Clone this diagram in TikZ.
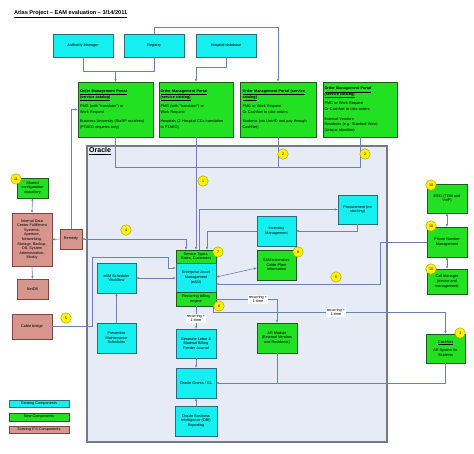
\documentclass[tikz,border=0pt]{standalone}
\usepackage{fontspec}
\setmainfont{Liberation Sans}
\usetikzlibrary{arrows.meta,calc}
\definecolor{cyanC}{RGB}{20,240,240}
\definecolor{cyanD}{RGB}{40,110,120}
\definecolor{greenC}{RGB}{34,224,34}
\definecolor{greenD}{RGB}{30,90,30}
\definecolor{pinkC}{RGB}{214,150,142}
\definecolor{pinkD}{RGB}{130,70,66}
\definecolor{oraC}{RGB}{230,235,246}
\definecolor{oraD}{RGB}{118,122,134}
\definecolor{lineC}{RGB}{110,130,175}
\definecolor{numD}{RGB}{170,150,0}
\newcommand\bxf{\fontsize{3.8}{4.6}\selectfont}
\newcommand\omf{\fontsize{3.8}{5.6}\selectfont}
\newcommand\nmf{\fontsize{3.6}{4}\selectfont}
\tikzset{
  base/.style={draw, line width=0.6pt, align=center, inner sep=1pt, font=\bxf},
  cy/.style={base, fill=cyanC, draw=cyanD},
  gr/.style={base, fill=greenC, draw=greenD},
  pk/.style={base, fill=pinkC, draw=pinkD},
  bx/.style 2 args={minimum width=#1, minimum height=#2},
  omp/.style={gr, minimum width=75, minimum height=55, text width=71, align=left, font=\omf},
  num/.style={circle, fill=yellow, draw=numD, line width=0.4pt, minimum size=10.5, inner sep=0, font=\nmf},
  conn/.style={draw=lineC, line width=0.6pt},
  arr/.style={conn, -{Stealth[length=3pt,width=2.4pt]}},
  darr/.style={conn, {Stealth[length=3pt,width=2.4pt]}-{Stealth[length=3pt,width=2.4pt]}},
  lbl/.style={fill=white, font=\bxf, align=center, inner sep=0.8pt},
}
\begin{document}
\begin{tikzpicture}[x=1pt,y=-1pt]
\useasboundingbox (0,0) rectangle (474,453);
\fill[white] (0,0) rectangle (474,453);
% title
\node[anchor=west, font=\fontsize{5.6}{6.5}\selectfont\bfseries, inner sep=0] (title) at (14,14) {\underline{Atlas Project – EAM evaluation – 3/14/2011}};
% Oracle region
\draw[fill=oraC, draw=oraD, line width=1.2pt] (87,146) rectangle (387,442);
\node[anchor=north west, font=\fontsize{7}{8}\selectfont\bfseries, inner sep=0] (oracle) at (89,147.5) {\underline{Oracle}};
% top sources
\node[cy, bx={60}{23}] (auth) at (83,45.5) {Authority Manager};
\node[cy, bx={60}{23}] (reg) at (154,45.5) {Registry};
\node[cy, bx={60}{23}] (hosp) at (226,45.5) {Hospital database};
% order management portals
\node[omp] (omp1) at (115.5,109.5) {\textbf{\underline{Order Management Portal}}\\\textbf{\underline{(service catalog)}}\\[4pt]PMG (with "translator") or\\Work Request\\[4pt]Business University (StaRP sccsfees)\\(PTAEO requests only)};
\node[omp, minimum width=74] (omp2) at (196,109.5) {\textbf{\underline{Order Management Portal}}\\\textbf{\underline{(service catalog)}}\\[4pt]PMG (with "translator") or\\Work Request\\[4pt]Hospitals (2 Hospital CCs translation\\to PTAEO)};
\node[omp, minimum width=76] (omp3) at (278,109.5) {\textbf{\underline{Order Management Portal (service}}\\\textbf{\underline{catalog)}}\\[4pt]PMG or Work Request\\Or CashNet to take orders\\[4pt]Students (via UnivID and pay through\\CashNet)};
\node[omp, minimum width=74] (omp4) at (360,109.5) {\textbf{\underline{Order Management Portal}}\\\textbf{\underline{(service catalog)}}\\[4pt]PMG or Work Request\\Or CashNet to take orders\\[4pt]External Vendors\\Residents (e.g. Stanford West)\\(Unique identifier)};
% left side
\node[gr, bx={31}{20}] (shared) at (32.5,188) {Shared\\configuration\\repository};
\node[pk, bx={40}{53}] (idc) at (32,239.5) {Internal Data\\Center Fulfillment\\Systems:\\Aperture,\\Networking,\\Storage, Backup,\\OS, System\\Administration,\\Moxity};
\node[pk, bx={31}{20}] (netdb) at (32.5,289) {NetDB};
\node[pk, bx={22}{20}] (remedy) at (71,239) {Remedy};
\node[pk, bx={40}{25}] (cable) at (32,326.5) {Cable bridge};
% centre column
\node[gr, bx={40}{13}] (service) at (196,256.5) {Service Types,\\Rates, Customers};
\node[cy, bx={40}{29}] (eam) at (196,277.5) {Enterprise Asset\\Management\\(eAM)};
\node[gr, bx={40}{14}] (recur) at (196,299) {Recurring billing\\engine};
\node[cy, bx={39}{30}] (sched) at (116.5,278) {eAM Scheduler\\Workflow};
\node[cy, bx={39}{30}] (prev) at (116.5,338) {Preventive\\Maintenance\\Schedules};
\node[cy, bx={39}{30}] (inv) at (276.5,231) {Inventory\\Management};
\node[gr, bx={39}{30}] (ext) at (276.5,265) {EAM extension:\\Cable Plant\\Information};
\node[cy, bx={39}{29}] (procure) at (357.5,209.5) {Procurement (no\\stocking)};
\node[cy, bx={40}{29}] (gen) at (196,343.5) {Generate Labor \&\\Material Billing\\Feeder Journal};
\node[cy, bx={40}{30}] (grants) at (196,383) {Oracle Grants / GL};
\node[cy, bx={42}{30}] (obi) at (196,421) {Oracle Business\\Intelligence (OBI)\\Reporting};
\node[gr, bx={40}{30}] (ar) at (277,338) {AR Module\\(External Vendors\\and Residents)};
% right side
\node[gr, bx={40}{29}] (e911) at (447,198.5) {E911 (TDM and\\VoIP)};
\node[gr, bx={40}{30}] (phone) at (447,242) {Phone Number\\Management};
\node[gr, bx={40}{25}] (call) at (447,281.5) {Call Manager\\(device and\\management)};
\node[gr, bx={39}{29}] (cash) at (445.5,348.5) {\underline{CashNet}\\[3pt]AR System for\\Students};
% legend
\node[cy, bx={60}{7}, inner sep=0] (leg1) at (39,403.5) {Existing Components};
\node[gr, bx={60}{8}, inner sep=0] (leg2) at (39,417) {New Components};
\node[pk, bx={60}{7}, inner sep=0] (leg3) at (39,429.5) {Existing ITS Components};
% connectors top
\coordinate (j1) at (115.5,71);
\coordinate (busy) at (0,167);
\draw[conn] (auth.south) -- ++(0,14) -| (reg.south);
\draw[arr] (j1) -- (omp1.north);
\draw[arr] (reg.north) -- ++(0,-6) -| (omp3.north);
\draw[arr] (hosp.south) -- ++(0,10) -| (omp2.north);
\draw[conn] (omp1.south) |- (busy -| omp4.south) -- (omp4.south);
\draw[conn] (omp3.south) -- (omp3.south |- busy);
\draw[arr] (omp2.south) -- (omp2.south |- service.north);
% left connectors
\draw[arr] (remedy.north) |- (omp1.west);
\draw[arr] (remedy.west) -- (idc.east);
\draw[darr] (remedy.east) -| ([xshift=-10pt]service.north);
\draw[darr] (shared.south) -- (idc.north);
\draw[arr] (idc.south) -- (netdb.north);
\draw[arr] (cable.east) -| (92,257) -| (168,268) -- ([yshift=9.5pt]eam.west);
% centre connectors
\draw[darr] (sched.east) -- (sched.east -| eam.west);
\draw[arr] (prev.north) -- (sched.south);
\draw[arr] ([xshift=3pt]service.north) |- (procure.west);
\draw[arr] (procure.south) |- (inv.east);
\draw[arr] (inv.west) -| ([xshift=11pt]service.north);
\draw[darr] ([yshift=0.5pt]eam.east) -- ([yshift=-3pt]ext.west);
\draw[arr] (phone.west) -| (380,284) -- ([yshift=-6.5pt]eam.east);
\draw[darr] (e911.south) -- (phone.north);
\draw[darr] (phone.south) -- (call.north);
\draw[arr] (recur.east) -| (ar.north);
\draw[arr] ([xshift=-3pt]recur.south east) -- ++(0,6) -| (cash.north);
\draw[arr] (recur.south) -- (gen.north);
\draw[arr] (gen.south) -- (grants.north);
\draw[arr] (obi.north) -- (grants.south);
\draw[arr] (ar.south) |- (grants.east);
\draw[conn] (cash.south) |- (ar.south |- grants.east);
% connector labels
\node[lbl] (l1) at (258,299) {recurring +\\1-time};
\node[lbl] (l2) at (336,312) {recurring +\\1-time};
\node[lbl] (l3) at (196,318) {recurring +\\1-time};
% numbered markers
\node[num] (n2a) at (283,154) {2};
\node[num] (n2b) at (365,154) {2};
\node[num] (n1) at (203,181) {1};
\node[num] (n4) at (126,230) {4};
\node[num] (n7) at (218,252) {7};
\node[num] (n6a) at (219,306) {6};
\node[num] (n8) at (298,252) {8};
\node[num] (n6b) at (336,277) {6};
\node[num] (n5) at (66,318) {5};
\node[num] (n11) at (16,179) {11};
\node[num] (n10a) at (431,185) {10};
\node[num] (n10b) at (431,226) {10};
\node[num] (n10c) at (431,269) {10};
\node[num] (n3) at (460,333) {3};
\end{tikzpicture}
\end{document}
